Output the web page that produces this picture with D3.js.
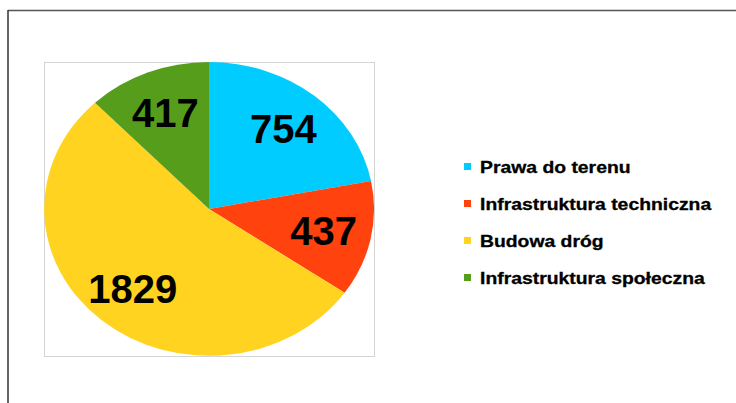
<!DOCTYPE html>
<html lang="pl">
<head>
<meta charset="utf-8">
<title>Koszty</title>
<script src="https://d3js.org/d3.v7.min.js"></script>
<style>
 body { margin: 0; background: #fff; }
 svg { display: block; }
</style>
</head>
<body>
<script>
// data
const categories = ['Prawa do terenu', 'Infrastruktura techniczna', 'Budowa dróg', 'Infrastruktura społeczna'];
const values = [754, 437, 1829, 417];
const colors = ['#00ccff', '#ff420e', '#ffd320', '#579d1c'];

const W = 736, H = 403;
const box = {x: 44, y: 62, w: 330, h: 294};
const cx = box.x + box.w / 2, cy = box.y + box.h / 2;
const rx = box.w / 2, ry = box.h / 2;

const svg = d3.select('body').append('svg')
  .attr('width', W).attr('height', H);

// outer frame (top and left edges)
svg.append('line').attr('x1', 8).attr('y1', 10.5).attr('x2', W).attr('y2', 10.5)
  .attr('stroke', '#555').attr('stroke-width', 1.5);
svg.append('line').attr('x1', 8).attr('y1', 10).attr('x2', 8).attr('y2', H)
  .attr('stroke', '#333').attr('stroke-width', 1.5);

// plot area
svg.append('rect')
  .attr('x', box.x + 0.5).attr('y', box.y + 0.5)
  .attr('width', box.w).attr('height', box.h)
  .attr('fill', 'none').attr('stroke', '#d4d4d4');

const pie = d3.pie().sort(null).value(d => d);
const arcs = pie(values);
const arc = d3.arc().innerRadius(0).outerRadius(1);
const labelArc = d3.arc().innerRadius(0.71).outerRadius(0.71);

// pie is stretched into an ellipse
svg.append('g')
  .attr('transform', `translate(${cx},${cy}) scale(${rx},${ry})`)
  .selectAll('path')
  .data(arcs)
  .enter()
  .append('path')
  .attr('d', arc)
  .attr('fill', (d, i) => colors[i]);

svg.append('g')
  .selectAll('text')
  .data(arcs)
  .enter()
  .append('text')
  .attr('x', d => cx + labelArc.centroid(d)[0] * rx)
  .attr('y', d => cy + labelArc.centroid(d)[1] * ry)
  .attr('text-anchor', 'middle')
  .attr('dy', '0.36em')
  .style('font-family', '"Liberation Sans", Arial, sans-serif')
  .style('font-weight', 'bold')
  .style('font-size', '40px')
  .text(d => d.data);

// legend
const legendY = d3.scalePoint().domain(categories).range([173, 284]);
const legend = svg.append('g').selectAll('g')
  .data(categories)
  .enter()
  .append('g')
  .attr('transform', d => `translate(464,${legendY(d)})`);

legend.append('rect')
  .attr('x', 0).attr('y', -10)
  .attr('width', 7).attr('height', 7)
  .attr('fill', (d, i) => colors[i]);

// legend text is drawn wider than normal in the original
legend.append('text')
  .attr('transform', 'translate(16,0) scale(1.21,1)')
  .style('font-family', '"Liberation Sans", Arial, sans-serif')
  .style('font-weight', 'bold')
  .style('font-size', '16px')
  .style('stroke', '#000')
  .style('stroke-width', 0.3)
  .text(d => d);
</script>
</body>
</html>
